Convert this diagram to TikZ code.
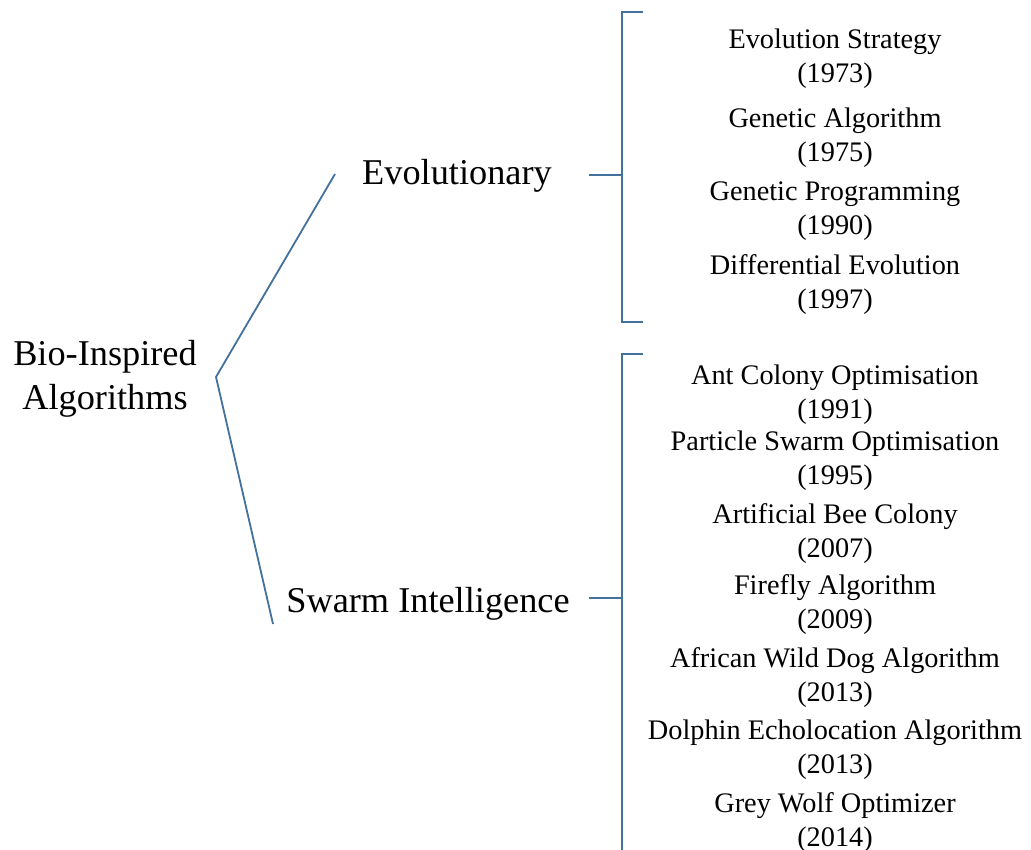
\documentclass[tikz,border=0pt]{standalone}
\usepackage{fontspec}
\setmainfont{Liberation Serif}
\definecolor{linecol}{HTML}{41719C}
\begin{document}
\begin{tikzpicture}[x=1pt,y=-1pt,
  conn/.style={draw=linecol,line width=1.8pt},
  big/.style={font=\fontsize{36.3}{44}\selectfont,align=center,inner sep=0pt},
  item/.style={font=\fontsize{28.3}{34}\selectfont,align=center,inner sep=0pt}]
\useasboundingbox (0,0) rectangle (1031,850);
\node[big] (root) at (105,378.5) {Bio-Inspired\\Algorithms};
\node[big] (evo) at (457,176) {Evolutionary};
\node[big] (swarm) at (428,604) {Swarm Intelligence};
\coordinate (fork) at (216,377);
\coordinate (evoend) at (335,174);
\coordinate (swend) at (273,624);
\draw[conn] (evoend) -- (fork) -- (swend);
% bracket 1
\coordinate (b1t) at (643,12);
\coordinate (b1tv) at (622,12);
\coordinate (b1b) at (643,322);
\coordinate (b1bv) at (622,322);
\coordinate (b1s) at (589,175);
\coordinate (b1m) at (622,175);
\draw[conn] (b1t) -- (b1tv) -- (b1bv) -- (b1b);
\draw[conn] (b1s) -- (b1m);
% bracket 2
\coordinate (b2t) at (643,354);
\coordinate (b2tv) at (622,354);
\coordinate (b2b) at (622,852);
\coordinate (b2s) at (589,598);
\coordinate (b2m) at (622,598);
\draw[conn] (b2t) -- (b2tv) -- (b2b);
\draw[conn] (b2s) -- (b2m);
% items
\node[item] (e1) at (835,58.5) {Evolution Strategy\\(1973)};
\node[item] (e2) at (835,138) {Genetic Algorithm\\(1975)};
\node[item] (e3) at (835,211) {Genetic Programming\\(1990)};
\node[item] (e4) at (835,285) {Differential Evolution\\(1997)};
\node[item] (s1) at (835,394.5) {Ant Colony Optimisation\\(1991)};
\node[item] (s2) at (835,460.5) {Particle Swarm Optimisation\\(1995)};
\node[item] (s3) at (835,533.5) {Artificial Bee Colony\\(2007)};
\node[item] (s4) at (835,605) {Firefly Algorithm\\(2009)};
\node[item] (s5) at (835,678) {African Wild Dog Algorithm\\(2013)};
\node[item] (s6) at (835,749.5) {Dolphin Echolocation Algorithm\\(2013)};
\node[item] (s7) at (835,822.5) {Grey Wolf Optimizer\\(2014)};
\end{tikzpicture}
\end{document}
